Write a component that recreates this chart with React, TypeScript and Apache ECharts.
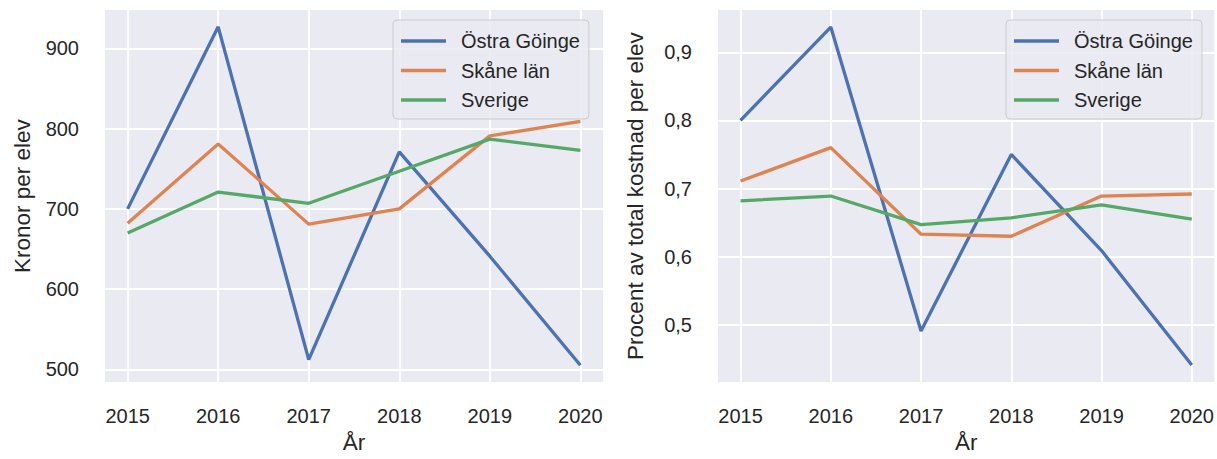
import React, { useEffect, useRef } from "react";
import * as echarts from "echarts";

const years = [2015, 2016, 2017, 2018, 2019, 2020];
const seriesNames = ["Östra Göinge", "Skåne län", "Sverige"];

const kronorOstraGoinge = [700, 927, 512, 771, 641, 505];
const kronorSkane = [682, 781, 681, 700, 791, 809];
const kronorSverige = [670, 721, 707, 747, 787, 773];

const andelOstraGoinge = [0.8, 0.937, 0.491, 0.75, 0.609, 0.441];
const andelSkane = [0.711, 0.76, 0.633, 0.63, 0.689, 0.692];
const andelSverige = [0.682, 0.689, 0.647, 0.657, 0.676, 0.655];

const colors = ["#4C72B0", "#DD8452", "#55A868"];
const FONT = "'Liberation Sans', Arial, sans-serif";
const TXT = "#262626";

const toPairs = (vals: number[]) => years.map((y, i) => [y, vals[i]]);

export default function App() {
  const ref = useRef<HTMLDivElement>(null);

  useEffect(() => {
    document.body.style.margin = "0";
    if (!ref.current) return;
    const chart = echarts.init(ref.current, null, { renderer: "svg" });

    const xAxisBase = (gridIndex: number) => ({
      type: "value" as const,
      gridIndex,
      min: 2014.75,
      max: 2020.25,
      splitNumber: 5,
      name: "År",
      nameLocation: "middle" as const,
      nameGap: 46,
      nameTextStyle: { fontSize: 22.5, color: TXT, fontFamily: FONT },
      axisLine: { show: false },
      axisTick: { show: false },
      splitLine: {
        show: true,
        showMinLine: false,
        showMaxLine: false,
        lineStyle: { color: "#ffffff", width: 1.8 },
      },
      axisLabel: {
        showMinLabel: false,
        showMaxLabel: false,
        margin: 24,
        fontSize: 20,
        color: TXT,
        fontFamily: FONT,
        formatter: (v: number) => (Number.isInteger(v) ? String(v) : ""),
      },
    });

    const yAxisBase = (gridIndex: number, min: number, max: number, name: string, fmt: (v: number) => string) => ({
      type: "value" as const,
      gridIndex,
      min,
      max,
      splitNumber: 5,
      name,
      nameLocation: "middle" as const,
      nameGap: 71,
      nameTextStyle: { fontSize: 22.5, color: TXT, fontFamily: FONT },
      axisLine: { show: false },
      axisTick: { show: false },
      splitLine: {
        show: true,
        showMinLine: false,
        showMaxLine: false,
        lineStyle: { color: "#ffffff", width: 1.8 },
      },
      axisLabel: {
        showMinLabel: false,
        showMaxLabel: false,
        margin: 26,
        fontSize: 20,
        color: TXT,
        fontFamily: FONT,
        formatter: fmt,
      },
    });

    const legendBase = (left: number) => ({
      left,
      top: 20,
      orient: "vertical" as const,
      data: seriesNames,
      icon: "rect",
      itemWidth: 45,
      itemHeight: 3.3,
      itemGap: 9.5,
      padding: [11, 9, 9, 8],
      backgroundColor: "rgba(234,234,242,0.85)",
      borderColor: "#cccccc",
      borderWidth: 1,
      borderRadius: 4,
      selectedMode: false,
      textStyle: { fontSize: 20, color: TXT, fontFamily: FONT, lineHeight: 20, padding: [0, 0, 0, 10] },
    });

    const mkSeries = (name: string, vals: number[], idx: number, axisIndex: number) => ({
      type: "line" as const,
      name,
      data: toPairs(vals),
      xAxisIndex: axisIndex,
      yAxisIndex: axisIndex,
      showSymbol: false,
      symbol: "none",
      lineStyle: { color: colors[idx], width: 3.3 },
      itemStyle: { color: colors[idx] },
      z: 3,
    });

    chart.setOption({
      animation: false,
      textStyle: { fontFamily: FONT },
      grid: [
        { left: 105, top: 10, width: 498, height: 373, show: true, backgroundColor: "#EAEAF2", borderWidth: 0 },
        { left: 718, top: 10, width: 497, height: 373, show: true, backgroundColor: "#EAEAF2", borderWidth: 0 },
      ],
      xAxis: [xAxisBase(0), xAxisBase(1)],
      yAxis: [
        yAxisBase(0, 484, 948, "Kronor per elev", (v: number) =>
          Math.abs(v / 100 - Math.round(v / 100)) < 1e-6 ? String(v) : ""
        ),
        yAxisBase(1, 0.416, 0.962, "Procent av total kostnad per elev", (v: number) =>
          Math.abs(v * 10 - Math.round(v * 10)) < 1e-6 ? v.toFixed(1).replace(".", ",") : ""
        ),
      ],
      legend: [legendBase(393), legendBase(1006)],
      series: [
        mkSeries(seriesNames[0], kronorOstraGoinge, 0, 0),
        mkSeries(seriesNames[1], kronorSkane, 1, 0),
        mkSeries(seriesNames[2], kronorSverige, 2, 0),
        mkSeries(seriesNames[0], andelOstraGoinge, 0, 1),
        mkSeries(seriesNames[1], andelSkane, 1, 1),
        mkSeries(seriesNames[2], andelSverige, 2, 1),
      ],
    });

    return () => chart.dispose();
  }, []);

  return <div ref={ref} style={{ width: 1217, height: 459 }} />;
}
